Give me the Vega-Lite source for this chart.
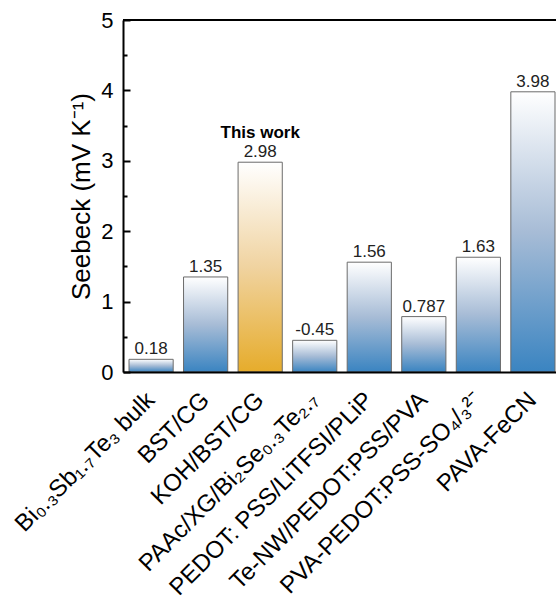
{
  "$schema": "https://vega.github.io/schema/vega-lite/v6.json",
  "autosize": "none",
  "padding": {"left": 123, "top": 20, "right": 0, "bottom": 240},
  "width": 433,
  "height": 352,
  "background": "white",
  "config": {
    "view": {"stroke": null},
    "font": "Liberation Sans",
    "axis": {"grid": false}
  },
  "data": {
    "values": [
      {"sample": "Bi₀.₃Sb₁.₇Te₃ bulk", "seebeck": 0.18, "group": "reported", "note": ""},
      {"sample": "BST/CG", "seebeck": 1.35, "group": "reported", "note": ""},
      {"sample": "KOH/BST/CG", "seebeck": 2.98, "group": "this work", "note": "This work"},
      {"sample": "PAAc/XG/Bi₂Se₀.₃Te₂.₇", "seebeck": -0.45, "group": "reported", "note": ""},
      {"sample": "PEDOT: PSS/LiTFSI/PLiP", "seebeck": 1.56, "group": "reported", "note": ""},
      {"sample": "Te-NW/PEDOT:PSS/PVA", "seebeck": 0.787, "group": "reported", "note": ""},
      {"sample": "PVA-PEDOT:PSS-SO₄/₃²⁻", "seebeck": 1.63, "group": "reported", "note": ""},
      {"sample": "PAVA-FeCN", "seebeck": 3.98, "group": "reported", "note": ""}
    ]
  },
  "transform": [{"calculate": "abs(datum.seebeck)", "as": "magnitude"}],
  "encoding": {
    "x": {
      "field": "sample",
      "type": "nominal",
      "sort": ["Bi₀.₃Sb₁.₇Te₃ bulk", "BST/CG", "KOH/BST/CG", "PAAc/XG/Bi₂Se₀.₃Te₂.₇", "PEDOT: PSS/LiTFSI/PLiP", "Te-NW/PEDOT:PSS/PVA", "PVA-PEDOT:PSS-SO₄/₃²⁻", "PAVA-FeCN"],
      "scale": {"range": [0, 438], "paddingInner": 0.19, "paddingOuter": 0.11},
      "axis": {
        "title": null,
        "ticks": false,
        "zindex": 1,
        "domainColor": "black",
        "domainWidth": 2,
        "labelAngle": -45,
        "labelAlign": "right",
        "labelBaseline": "middle",
        "labelFontSize": 24,
        "labelColor": "black",
        "labelPadding": 24,
        "labelLimit": 400
      }
    }
  },
  "resolve": {"axis": {"y": "independent"}},
  "layer": [
    {
      "transform": [{"filter": "datum.group === 'reported'"}],
      "mark": {
        "type": "bar",
        "stroke": "#6b6b6b",
        "strokeWidth": 1,
        "fill": {
          "gradient": "linear",
          "x1": 0, "y1": 0, "x2": 0, "y2": 1,
          "stops": [
            {"offset": 0, "color": "#ffffff"},
            {"offset": 0.5, "color": "#a7bcd6"},
            {"offset": 1, "color": "#3a84c1"}
          ]
        }
      },
      "encoding": {
        "y": {
          "field": "magnitude",
          "type": "quantitative",
          "scale": {"domain": [0, 5], "nice": false},
          "axis": {
            "orient": "left",
            "title": "Seebeck (mV K⁻¹)",
            "titleFontSize": 26,
            "titleFontWeight": "normal",
            "titleColor": "black",
            "titlePadding": 6,
            "values": [0, 1, 2, 3, 4, 5],
            "format": "d",
            "labelFontSize": 22,
            "labelColor": "black",
            "labelPadding": 10,
            "ticks": false,
            "zindex": 1,
            "domainColor": "black",
            "domainWidth": 2
          }
        }
      }
    },
    {
      "transform": [{"filter": "datum.group === 'this work'"}],
      "mark": {
        "type": "bar",
        "stroke": "#6b6b6b",
        "strokeWidth": 1,
        "fill": {
          "gradient": "linear",
          "x1": 0, "y1": 0, "x2": 0, "y2": 1,
          "stops": [
            {"offset": 0, "color": "#ffffff"},
            {"offset": 0.5, "color": "#f0d3a0"},
            {"offset": 1, "color": "#e6ac2b"}
          ]
        }
      },
      "encoding": {
        "y": {
          "field": "magnitude",
          "type": "quantitative",
          "axis": {
            "orient": "left",
            "offset": -7,
            "title": null,
            "labels": false,
            "domain": false,
            "values": [0, 1, 2, 3, 4, 5],
            "tickSize": 7,
            "tickWidth": 2,
            "tickColor": "black",
            "zindex": 1
          }
        }
      }
    },
    {
      "mark": {"type": "text", "baseline": "bottom", "dy": -1, "fontSize": 17, "color": "#222222"},
      "encoding": {
        "y": {
          "field": "magnitude",
          "type": "quantitative",
          "axis": {
            "orient": "left",
            "offset": -4,
            "title": null,
            "labels": false,
            "domain": false,
            "values": [0.5, 1.5, 2.5, 3.5, 4.5],
            "tickSize": 4,
            "tickWidth": 2,
            "tickColor": "black",
            "zindex": 1
          }
        },
        "text": {"field": "seebeck", "type": "nominal"}
      }
    },
    {
      "mark": {"type": "text", "baseline": "bottom", "dy": -20, "fontSize": 17, "fontWeight": "bold", "color": "black"},
      "encoding": {
        "y": {"field": "magnitude", "type": "quantitative", "axis": null},
        "text": {"field": "note", "type": "nominal"}
      }
    },
    {
      "mark": {"type": "rule", "color": "black", "strokeWidth": 2},
      "encoding": {"y": {"datum": 5, "axis": null}, "x": {"value": 0}, "x2": {"value": 433}}
    }
  ]
}
